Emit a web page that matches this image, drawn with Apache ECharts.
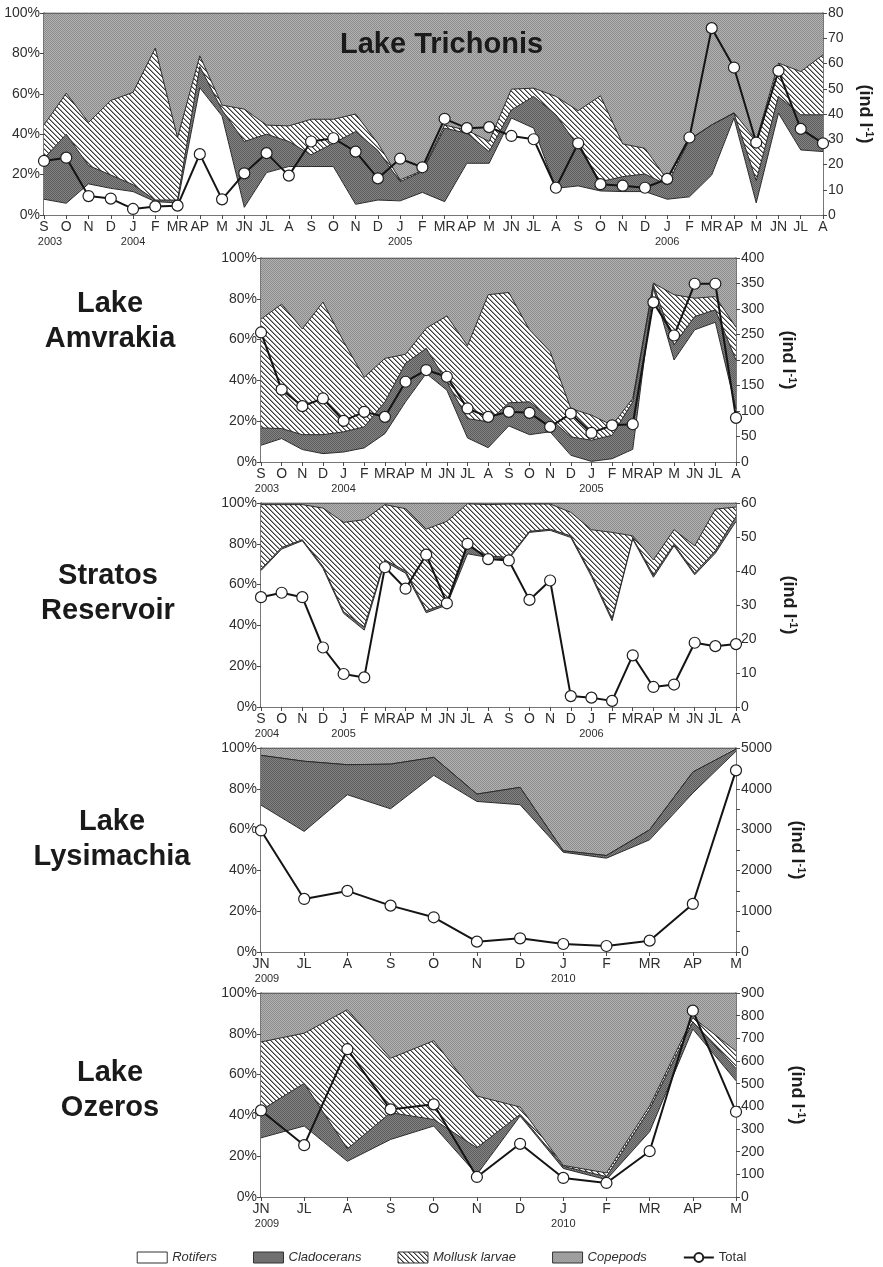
<!DOCTYPE html>
<html>
<head>
<meta charset="utf-8">
<script src="https://cdn.jsdelivr.net/npm/echarts@6/dist/echarts.min.js"></script>
<style>
  html, body { margin: 0; padding: 0; background: #fff; }
  #chart { width: 883px; height: 1267px; }
</style>
</head>
<body>
<div id="chart"></div>
<script>
// ---------- categories ----------
const trichonisMonths = ['S','O','N','D','J','F','MR','AP','M','JN','JL','A',
                         'S','O','N','D','J','F','MR','AP','M','JN','JL','A',
                         'S','O','N','D','J','F','MR','AP','M','JN','JL','A'];
const trichonisYears = [[0,'2003'],[4,'2004'],[16,'2005'],[28,'2006']];

const amvrakiaMonths = ['S','O','N','D','J','F','MR','AP','M','JN','JL','A',
                        'S','O','N','D','J','F','MR','AP','M','JN','JL','A'];
const amvrakiaYears = [[0,'2003'],[4,'2004'],[16,'2005']];

const stratosMonths = ['S','O','N','D','J','F','MR','AP','M','JN','JL','A',
                       'S','O','N','D','J','F','MR','AP','M','JN','JL','A'];
const stratosYears = [[0,'2004'],[4,'2005'],[16,'2006']];

const lysimachiaMonths = ['JN','JL','A','S','O','N','D','J','F','MR','AP','M'];
const lysimachiaYears = [[0,'2009'],[7,'2010']];

const ozerosMonths = ['JN','JL','A','S','O','N','D','J','F','MR','AP','M'];
const ozerosYears = [[0,'2009'],[7,'2010']];

// ---------- Lake Trichonis: composition (%) and total (ind l-1) ----------
const trichonisRotifers    = [7.8,5.8,15.4,13.2,11.6,6.6,6,63,49,3.8,21,24, 24,24,5.3,7.4,7,11.2,6.6,25.6,25.6,48,43,13.2, 14.4,11.9,11.6,11.6,7.8,9,19.8,48,6,50.4,32.2,31.4];
const trichonisCladocerans = [20.2,34.2,9.1,6.6,3.4,0.8,1.4,10.5,3,32.6,19,12.4, 5.8,11.5,36,24.6,9.5,10.3,36.4,14.9,5.8,4,15.7,36.4, 19.5,4.6,7.4,8.7,7.1,28.2,24.8,2.4,11,8.3,17.4,18.2];
const trichonisMollusks    = [16.6,20.3,21.3,36.9,45.7,75.2,30.9,5.3,2.4,16,4.5,7.7, 17.6,11.9,8.7,3.5,0.9,0.5,1.5,1.5,5,10.3,4.1,9.1, 17.7,42.5,16.2,12.7,2.5,0.3,0,0.2,20,16.5,21.4,29.7];
const trichonisCopepods    = [55.4,39.7,54.2,43.3,39.3,17.4,61.7,21.2,45.6,47.6,55.5,55.9, 52.6,52.6,50,64.5,82.6,78,55.5,58,63.6,37.7,37.2,41.3, 48.4,41,64.8,67,82.6,62.5,55.4,49.4,63,24.8,29,20.7];
const trichonisTotal       = [21.4,22.7,7.5,6.5,2.4,3.4,3.7,24.1,6.2,16.5,24.5,15.6, 29.1,30.4,25.1,14.5,22.3,18.9,38.1,34.4,34.8,31.3,30,10.8, 28.4,12.2,11.6,10.8,14.3,30.7,74,58.4,28.7,57.1,34.1,28.4];

// ---------- Lake Amvrakia ----------
const amvrakiaRotifers    = [8.2,11.5,6.1,4.1,4.9,6.9,13.9,29.5,43.4,35.2,11.8,7, 17.7,13.4,14.8,3.3,0.3,1.6,6.2,85.2,50,64.8,68.5,26];
const amvrakiaCladocerans = [8.5,4.9,7.3,9.3,9.9,10.3,15.6,18.9,12.3,4.1,9.5,12.7, 11.3,16.1,6.5,9,10.4,11.5,23.3,1.7,7.4,6.5,6.1,24];
const amvrakiaMollusks    = [53.3,61,51.8,65,44.2,24.3,21.3,4.4,9.9,32.3,35.7,62.3, 54.1,35.3,32.8,13.9,12.3,4.9,1.6,0.8,24.6,9,6.5,16];
const amvrakiaCopepods    = [30,22.6,34.8,21.6,41,58.5,49.2,47.2,34.4,28.4,43,18, 16.9,35.2,45.9,73.8,77,82,68.9,12.3,18,19.7,18.9,34];
const amvrakiaTotal       = [254,142,109.5,124.6,80.7,98.4,88.5,157.4,180.3,167.2,105,88.5, 98.4,96.4,68.9,95,57,72,74,313,248,349.5,349.5,86.6];

// ---------- Stratos Reservoir ----------
const stratosRotifers    = [66.9,77.4,81.5,68,45.9,37.7,71.3,65.6,46.2,50,75.1,73.3, 72.5,85.6,86.6,83.1,64,42.3,82.3,63.6,79,64.8,75.4,91];
const stratosCladocerans = [0.6,0.8,0.5,0.9,0.8,1.6,0.8,1.1,1,0.8,3.6,0.8, 0.8,0.5,0.6,0.8,1,1.1,0.5,1.2,0.8,0.8,1.2,2.4];
const stratosMollusks    = [31.7,21,17.2,28.6,43.8,52.5,27.1,30.5,40,40.2,20.9,25.1, 26.2,13.4,12.3,11.5,21.9,42.2,1.1,7.3,7.1,13.4,20.4,4.6];
const stratosCopepods    = [0.8,0.8,0.8,2.5,9.5,8.2,0.8,2.8,12.8,9,0.4,0.8, 0.5,0.5,0.5,4.6,13.1,14.4,16.1,27.9,13.1,21,3,2];
const stratosTotal       = [32.3,33.6,32.3,17.5,9.7,8.7,41.1,34.8,44.8,30.5,48,43.5, 43.1,31.5,37.2,3.2,2.75,1.8,15.2,5.9,6.6,18.9,17.9,18.5];

// ---------- Lake Lysimachia ----------
const lysimachiaRotifers    = [72,59.1,77.1,70.2,86.6,73.8,72.2,48.9,46,55,77.9,98.4];
const lysimachiaCladocerans = [24.4,34.4,14.7,21.9,8.8,3.6,8.5,0.7,1.3,4.9,10.3,1.1];
const lysimachiaMollusks    = [0,0,0,0,0,0,0,0,0,0,0,0];
const lysimachiaCopepods    = [3.6,6.5,8.2,7.9,4.6,22.6,19.3,50.4,52.7,40.1,11.8,0.5];
const lysimachiaTotal       = [2979,1301,1497,1137,851,254,335,196,147,278,1178,4452];

// ---------- Lake Ozeros ----------
const ozerosRotifers    = [29,34.8,17.5,28.2,34.8,11,39.7,14,8.5,32,82.3,57];
const ozerosCladocerans = [13.5,20.9,6.1,13.1,3.2,13.1,0.8,1,1.5,11,3.6,6];
const ozerosMollusks    = [33.5,24.6,68.2,26.7,38.6,25.4,3.6,0.5,1.8,1.6,2.1,8.5];
const ozerosCopepods    = [24,19.7,8.2,32,23.4,50.5,55.9,84.5,88.2,55.4,12,28.5];
const ozerosTotal       = [382,228.7,652,386.5,408.7,88.5,234.6,84.1,62,202,822,376];

// ---------- fills ----------
const FONT = '"Liberation Sans", Arial, Helvetica, sans-serif';

function ditherFill(a, b) {
  const c = document.createElement('canvas');
  c.width = c.height = 4;
  const ctx = c.getContext('2d');
  for (let y = 0; y < 4; y++) for (let x = 0; x < 4; x++) {
    ctx.fillStyle = ((x + y) % 2 === 0) ? a : b;
    ctx.fillRect(x, y, 1, 1);
  }
  return { image: c, repeat: 'repeat' };
}
function hatchFill() {
  const s = 5;
  const c = document.createElement('canvas');
  c.width = c.height = s;
  const ctx = c.getContext('2d');
  ctx.fillStyle = '#ffffff';
  ctx.fillRect(0, 0, s, s);
  for (let y = 0; y < s; y++) for (let x = 0; x < s; x++) {
    const d = ((x - y) % s + s) % s;
    if (d === 0) { ctx.fillStyle = '#3a3a3a'; ctx.fillRect(x, y, 1, 1); }
    else if (d === 1) { ctx.fillStyle = '#9a9a9a'; ctx.fillRect(x, y, 1, 1); }
  }
  return { image: c, repeat: 'repeat' };
}
const FILL_ROT = '#ffffff';
const FILL_CLAD = ditherFill('#5c5c5c', '#848484');
const FILL_MOLL = hatchFill();
const FILL_COPE = ditherFill('#8c8c8c', '#b2b2b2');

// ---------- panel layout ----------
const panels = [
  { months: trichonisMonths, years: trichonisYears,
    layers: [trichonisRotifers, trichonisCladocerans, trichonisMollusks, trichonisCopepods],
    total: trichonisTotal, max: 80, step: 10, labelStep: 10,
    box: [44, 13, 781, 202], nameGap: 32 },
  { months: amvrakiaMonths, years: amvrakiaYears,
    layers: [amvrakiaRotifers, amvrakiaCladocerans, amvrakiaMollusks, amvrakiaCopepods],
    total: amvrakiaTotal, max: 400, step: 50, labelStep: 50,
    box: [261, 258, 475, 204], nameGap: 42 },
  { months: stratosMonths, years: stratosYears,
    layers: [stratosRotifers, stratosCladocerans, stratosMollusks, stratosCopepods],
    total: stratosTotal, max: 60, step: 10, labelStep: 10,
    box: [261, 503, 475, 204], nameGap: 43 },
  { months: lysimachiaMonths, years: lysimachiaYears,
    layers: [lysimachiaRotifers, lysimachiaCladocerans, lysimachiaMollusks, lysimachiaCopepods],
    total: lysimachiaTotal, max: 5000, step: 500, labelStep: 1000,
    box: [261, 748, 475, 204], nameGap: 51 },
  { months: ozerosMonths, years: ozerosYears,
    layers: [ozerosRotifers, ozerosCladocerans, ozerosMollusks, ozerosCopepods],
    total: ozerosTotal, max: 900, step: 100, labelStep: 100,
    box: [261, 993, 475, 204], nameGap: 51 }
];

const layerNames = ['Rotifers', 'Cladocerans', 'Mollusk larvae', 'Copepods'];
const layerFills = [FILL_ROT, FILL_CLAD, FILL_MOLL, FILL_COPE];
const layerZ = [5, 4, 3, 2];

const AXIS_COLOR = '#4a4a4a';
const TEXT_COLOR = '#2e2e2e';

const grid = [], xAxis = [], yAxis = [], series = [];

panels.forEach((p, i) => {
  grid.push({ left: p.box[0], top: p.box[1], width: p.box[2], height: p.box[3] });

  xAxis.push({
    type: 'category', gridIndex: i, data: p.months, boundaryGap: false,
    axisLine: { lineStyle: { color: AXIS_COLOR, width: 1.5 } },
    axisTick: { show: true, length: 4, interval: 0, lineStyle: { color: AXIS_COLOR } },
    axisLabel: {
      interval: 0, margin: 5, hideOverlap: false,
      formatter: (v, idx) => {
        const y = p.years.find(e => e[0] === idx);
        if (!y) return '{m|' + v + '}';
        return '{m|' + v + '}\n{' + (idx === 0 ? 'y0' : 'y') + '|' + y[1] + '}';
      },
      rich: {
        m: { fontFamily: FONT, fontSize: 14, lineHeight: 15, color: TEXT_COLOR },
        y: { fontFamily: FONT, fontSize: 11, lineHeight: 13, color: TEXT_COLOR },
        y0: { fontFamily: FONT, fontSize: 11, lineHeight: 13, color: TEXT_COLOR, padding: [0, 0, 0, 12] }
      }
    }
  });

  yAxis.push({
    type: 'value', gridIndex: i, position: 'left', min: 0, max: 100, interval: 20,
    axisLine: { show: true, lineStyle: { color: AXIS_COLOR, width: 1.5 } },
    axisTick: { show: true, length: 4, lineStyle: { color: AXIS_COLOR } },
    splitLine: { show: false },
    axisLabel: { formatter: '{value}%', fontFamily: FONT, fontSize: 14, color: TEXT_COLOR, margin: 4 }
  });

  yAxis.push({
    type: 'value', gridIndex: i, position: 'right', min: 0, max: p.max, interval: p.step,
    axisLine: { show: true, lineStyle: { color: AXIS_COLOR, width: 1.5 } },
    axisTick: { show: true, length: 4, lineStyle: { color: AXIS_COLOR } },
    splitLine: { show: false },
    axisLabel: {
      fontFamily: FONT, fontSize: 14, color: TEXT_COLOR, margin: 5,
      formatter: v => (v % p.labelStep === 0 ? String(v) : '')
    },
    name: '{a|(ind l}{s|-1}{a|)}',
    nameLocation: 'middle', nameRotate: -90, nameGap: p.nameGap,
    nameTextStyle: {
      rich: {
        a: { fontFamily: FONT, fontSize: 18, fontWeight: 'bold', color: '#1e1e1e', lineHeight: 20 },
        s: { fontFamily: FONT, fontSize: 11, fontWeight: 'bold', color: '#1e1e1e', lineHeight: 11, verticalAlign: 'top' }
      }
    }
  });

  p.layers.forEach((vals, k) => {
    series.push({
      name: layerNames[k], type: 'line', xAxisIndex: i, yAxisIndex: 2 * i,
      stack: 'lake' + i, data: vals, symbol: 'none', z: layerZ[k],
      silent: true, emphasis: { disabled: true },
      lineStyle: { color: '#2a2a2a', width: 1 },
      itemStyle: { color: '#888' },
      areaStyle: { color: layerFills[k], opacity: 1 }
    });
  });

  series.push({
    name: 'Total', type: 'line', xAxisIndex: i, yAxisIndex: 2 * i + 1,
    data: p.total, symbol: 'circle', symbolSize: 11, z: 10,
    emphasis: { disabled: true },
    lineStyle: { color: '#141414', width: 2 },
    itemStyle: { color: '#ffffff', borderColor: '#1e1e1e', borderWidth: 1.2 }
  });
});

// Lake names
const titleFont = 'bold 29px ' + FONT;
const nameText = (text, x, y, align) => ({
  type: 'text', x, y, z: 100, zlevel: 0, silent: true,
  style: { text, font: titleFont, fill: '#1a1a1a', lineHeight: 35,
           align, textAlign: align, verticalAlign: 'middle', textVerticalAlign: 'middle' }
});

const chart = echarts.init(document.getElementById('chart'), null, { renderer: 'canvas' });
chart.setOption({
  animation: false,
  backgroundColor: '#ffffff',
  grid, xAxis, yAxis, series,
  legend: {
    top: 1246, left: 'center', itemWidth: 30, itemHeight: 11, itemGap: 36,
    selectedMode: false,
    textStyle: { fontFamily: FONT, fontSize: 13, fontStyle: 'italic', color: TEXT_COLOR },
    data: [
      { name: 'Rotifers', icon: 'rect', itemStyle: { color: FILL_ROT, borderColor: '#333', borderWidth: 1 } },
      { name: 'Cladocerans', icon: 'rect', itemStyle: { color: FILL_CLAD, borderColor: '#333', borderWidth: 1 } },
      { name: 'Mollusk larvae', icon: 'rect', itemStyle: { color: FILL_MOLL, borderColor: '#333', borderWidth: 1 } },
      { name: 'Copepods', icon: 'rect', itemStyle: { color: FILL_COPE, borderColor: '#333', borderWidth: 1 } },
      { name: 'Total', textStyle: { fontStyle: 'normal' } }
    ]
  },
  graphic: {
    elements: [
      nameText('Lake Trichonis', 340, 45, 'left'),
      nameText('Lake\nAmvrakia', 110, 321, 'center'),
      nameText('Stratos\nReservoir', 108, 593, 'center'),
      nameText('Lake\nLysimachia', 112, 839, 'center'),
      nameText('Lake\nOzeros', 110, 1090, 'center')
    ]
  }
});
</script>
</body>
</html>
